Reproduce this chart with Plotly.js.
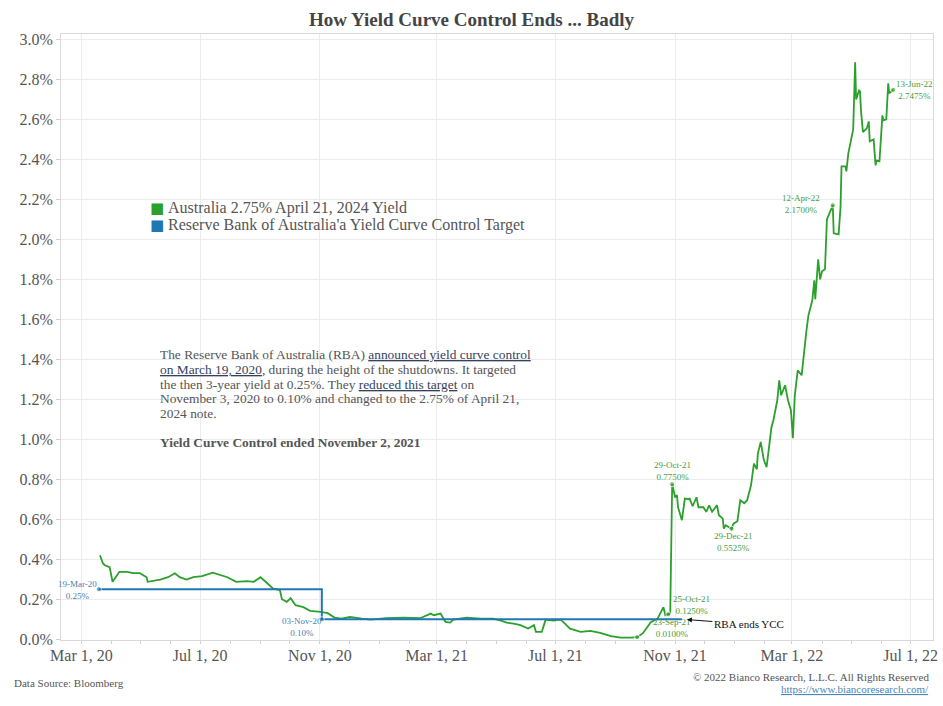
<!DOCTYPE html>
<html>
<head>
<meta charset="utf-8">
<script src="https://cdn.plot.ly/plotly-3.0.1.min.js"></script>
<style>html,body{margin:0;padding:0;background:#fff;}#chart{width:943px;height:706px;}</style>
</head>
<body>
<div id="chart"></div>
<script>
// ---- data ----
const yieldName = "Australia 2.75% April 21, 2024 Yield";
const targetName = "Reserve Bank of Australia'a Yield Curve Control Target";

const yieldDates = [
"2020-03-20","2020-03-23","2020-03-25","2020-03-30","2020-04-02","2020-04-06","2020-04-09","2020-04-17","2020-04-23","2020-04-30",
"2020-05-07","2020-05-08","2020-05-13","2020-05-21","2020-05-29","2020-06-05","2020-06-10","2020-06-17","2020-06-24","2020-07-03",
"2020-07-14","2020-07-22","2020-07-29","2020-08-07","2020-08-18","2020-08-25","2020-09-01","2020-09-08","2020-09-14","2020-09-21",
"2020-09-23","2020-09-28","2020-10-02","2020-10-07","2020-10-15","2020-10-22","2020-11-02","2020-11-09","2020-11-16","2020-11-23",
"2020-12-02","2020-12-14","2020-12-23","2021-01-08","2021-01-26","2021-02-12","2021-02-23","2021-02-26","2021-03-05","2021-03-10",
"2021-03-15","2021-03-18","2021-03-25","2021-04-01","2021-04-15","2021-04-28","2021-05-07","2021-05-12","2021-05-19","2021-05-26",
"2021-06-03","2021-06-09","2021-06-11","2021-06-17","2021-06-21","2021-06-29","2021-07-06","2021-07-09","2021-07-16","2021-07-27",
"2021-08-06","2021-08-16","2021-08-27","2021-09-06","2021-09-16","2021-09-23","2021-09-29","2021-10-07","2021-10-14","2021-10-20",
"2021-10-22","2021-10-25","2021-10-27","2021-10-29","2021-11-01","2021-11-03","2021-11-04","2021-11-08","2021-11-11","2021-11-15",
"2021-11-16","2021-11-19","2021-11-23","2021-11-25","2021-11-30","2021-12-03","2021-12-06","2021-12-09","2021-12-14","2021-12-16",
"2021-12-20","2021-12-21","2021-12-23","2021-12-29","2021-12-31","2022-01-04","2022-01-07","2022-01-11","2022-01-14","2022-01-18",
"2022-01-21","2022-01-24","2022-01-25","2022-01-28","2022-01-31","2022-02-03","2022-02-07","2022-02-08","2022-02-10","2022-02-14",
"2022-02-16","2022-02-18","2022-02-22","2022-02-25","2022-02-28","2022-03-02","2022-03-04","2022-03-07","2022-03-11","2022-03-14",
"2022-03-16","2022-03-18","2022-03-22","2022-03-24","2022-03-25","2022-03-28","2022-03-30","2022-04-01","2022-04-04","2022-04-06",
"2022-04-08","2022-04-12","2022-04-13","2022-04-18","2022-04-20","2022-04-21","2022-04-25","2022-04-26","2022-04-28","2022-05-02",
"2022-05-03","2022-05-05","2022-05-06","2022-05-09","2022-05-10","2022-05-11","2022-05-13","2022-05-17","2022-05-19","2022-05-20",
"2022-05-24","2022-05-26","2022-05-27","2022-05-30","2022-06-01","2022-06-02","2022-06-03","2022-06-06","2022-06-08","2022-06-09",
"2022-06-13"
];
const yieldValues = [
0.42,0.38,0.37,0.36,0.287,0.315,0.337,0.337,0.33,0.33,
0.31,0.287,0.29,0.298,0.31,0.33,0.31,0.298,0.31,0.315,
0.333,0.32,0.31,0.287,0.29,0.287,0.31,0.28,0.253,0.245,
0.20,0.187,0.205,0.17,0.16,0.142,0.137,0.13,0.108,0.103,
0.112,0.103,0.098,0.105,0.108,0.105,0.128,0.12,0.128,0.087,
0.083,0.098,0.103,0.108,0.103,0.103,0.092,0.083,0.078,0.07,
0.053,0.07,0.037,0.037,0.098,0.093,0.098,0.087,0.053,0.037,
0.042,0.032,0.015,0.008,0.008,0.01,0.03,0.085,0.103,0.16,
0.12,0.125,0.13,0.775,0.71,0.72,0.66,0.595,0.703,0.70,
0.703,0.665,0.71,0.66,0.66,0.637,0.67,0.637,0.67,0.62,
0.603,0.553,0.57,0.5525,0.578,0.59,0.695,0.68,0.695,0.77,
0.878,0.85,0.928,0.987,0.90,0.86,1.01,1.06,1.095,1.195,
1.295,1.22,1.27,1.195,1.145,1.005,1.22,1.345,1.32,1.47,
1.545,1.62,1.695,1.795,1.70,1.90,1.80,1.84,1.85,2.10,
2.125,2.17,2.03,2.025,2.16,2.365,2.365,2.34,2.43,2.53,
2.55,2.885,2.70,2.745,2.74,2.645,2.537,2.555,2.59,2.49,
2.50,2.37,2.395,2.39,2.555,2.62,2.595,2.60,2.78,2.73,
2.7475
];

const targetDates = ["2020-03-19","2020-11-03","2021-11-08"];
const targetValues = [0.25, 0.10, 0.10];

const yieldLabelDates = ["2021-09-23","2021-10-25","2021-10-29","2021-12-29","2022-04-12","2022-06-13"];
const targetLabelDates = ["2020-03-19","2020-11-03"];

const xTickVals = ["2020-03-01","2020-07-01","2020-11-01","2021-03-01","2021-07-01","2021-11-01","2022-03-01","2022-07-01"];
const xTickText = ["Mar 1, 20","Jul 1, 20","Nov 1, 20","Mar 1, 21","Jul 1, 21","Nov 1, 21","Mar 1, 22","Jul 1, 22"];
const yTickVals = [0,0.2,0.4,0.6,0.8,1.0,1.2,1.4,1.6,1.8,2.0,2.2,2.4,2.6,2.8,3.0];
const yTickText = ["0.0%","0.2%","0.4%","0.6%","0.8%","1.0%","1.2%","1.4%","1.6%","1.8%","2.0%","2.2%","2.4%","2.6%","2.8%","3.0%"];

const titleText = "How Yield Curve Control Ends ... Badly";
const descLines = [
  "The Reserve Bank of Australia (RBA) <span style='color:#34425e;text-decoration:underline'>announced yield curve control</span>",
  "<span style='color:#34425e;text-decoration:underline'>on March 19, 2020</span>, during the height of the shutdowns. It targeted",
  "the then 3-year yield at 0.25%. They <span style='color:#34425e;text-decoration:underline'>reduced this target</span> on",
  "November 3, 2020 to 0.10% and changed to the 2.75% of April 21,",
  "2024 note.",
  "",
  "<b>Yield Curve Control ended November 2, 2021</b>"
];
const sourceText = "Data Source: Bloomberg";
const copyrightText = "© 2022 Bianco Research, L.L.C. All Rights Reserved";
const urlText = "https://www.biancoresearch.com/";
const arrowText = "RBA ends YCC";

// ---- styles ----
const FONT = "Liberation Serif, Times New Roman, serif";
const GREEN = "#2ca02c";
const BLUE = "#1f77b4";
const GREEN_TXT = "#46a03c";
const BLUE_TXT = "#4a7fb3";
const GRID = "#ececec";

const months = ["Jan","Feb","Mar","Apr","May","Jun","Jul","Aug","Sep","Oct","Nov","Dec"];
function fmtDate(s){ const [y,m,d] = s.split("-"); return d + "-" + months[+m-1] + "-" + y.slice(2); }

const yieldSizes = yieldDates.map(d => yieldLabelDates.includes(d) ? 5 : 0);
const targetSizes = targetDates.map(d => targetLabelDates.includes(d) ? 5 : 0);

const traces = [
  {x: yieldDates, y: yieldValues, type: "scatter", mode: "lines+markers", name: yieldName,
   line: {color: GREEN, width: 1.8}, marker: {color: GREEN, size: yieldSizes}, hoverinfo: "x+y"},
  {x: targetDates, y: targetValues, type: "scatter", mode: "lines+markers", name: targetName,
   line: {color: BLUE, width: 2, shape: "hv"}, marker: {color: BLUE, size: targetSizes}, hoverinfo: "x+y"}
];

// label placement styles (pixels relative to the point)
const yieldLabelStyle = {
  "2021-09-23": {xanchor: "left", xshift: 14, yshift: 9},
  "2021-10-25": {xanchor: "left", xshift: 3, yshift: 9},
  "2021-10-29": {xanchor: "center", xshift: 0, yshift: 13},
  "2021-12-29": {xanchor: "center", xshift: 1, yshift: -13},
  "2022-04-12": {xanchor: "right", xshift: -11, yshift: 1},
  "2022-06-13": {xanchor: "left", xshift: 1, yshift: 0}
};
const targetLabelStyle = {
  "2020-03-19": {xanchor: "right", xshift: 0, yshift: -1},
  "2020-11-03": {xanchor: "right", xshift: 2, yshift: -8}
};

const annotations = [];
yieldLabelDates.forEach(d => {
  const i = yieldDates.indexOf(d);
  const st = yieldLabelStyle[d];
  annotations.push({x: d, y: yieldValues[i], xref: "x", yref: "y", showarrow: false,
    text: fmtDate(d) + "<br>" + yieldValues[i].toFixed(4) + "%", align: "center",
    xanchor: st.xanchor, yanchor: "middle", xshift: st.xshift, yshift: st.yshift,
    font: {family: FONT, size: 9, color: GREEN_TXT}});
});
targetLabelDates.forEach(d => {
  const i = targetDates.indexOf(d);
  const st = targetLabelStyle[d];
  annotations.push({x: d, y: targetValues[i], xref: "x", yref: "y", showarrow: false,
    text: fmtDate(d) + "<br>" + targetValues[i].toFixed(2) + "%", align: "center",
    xanchor: st.xanchor, yanchor: "middle", xshift: st.xshift, yshift: st.yshift,
    font: {family: FONT, size: 9, color: BLUE_TXT}});
});
// arrow to the end of the YCC target
const lastT = targetDates.length - 1;
annotations.push({x: targetDates[lastT], y: targetValues[lastT], xref: "x", yref: "y",
  text: arrowText, showarrow: true, ax: 67, ay: 5, arrowhead: 2, arrowsize: 1, arrowwidth: 1,
  arrowcolor: "#111", standoff: 5, font: {family: FONT, size: 11, color: "#111"}});

// legend (colour key)
const legendItems = [{name: yieldName, color: GREEN}, {name: targetName, color: BLUE}];
legendItems.forEach((it, i) => {
  annotations.push({x: 0.0998, y: 0.7129, xref: "paper", yref: "paper", xanchor: "left", yanchor: "middle",
    yshift: -i * 17, showarrow: false, text: "■", font: {family: "DejaVu Sans", size: 15, color: it.color}});
  annotations.push({x: 0.1204, y: 0.7129, xref: "paper", yref: "paper", xanchor: "left", yanchor: "middle",
    yshift: -i * 17, showarrow: false, text: it.name, font: {family: FONT, size: 16, color: "#555"}});
});

// description text block
descLines.forEach((t, i) => {
  if (!t) return;
  annotations.push({x: 0.1112, y: 0.486, xref: "paper", yref: "paper", xanchor: "left", yanchor: "top",
    yshift: -i * 14.6, showarrow: false, align: "left", text: t,
    font: {family: FONT, size: 13.4, color: "#555"}});
});
// footer
annotations.push({x: -0.0562, y: -0.071, xref: "paper", yref: "paper", xanchor: "left", yanchor: "middle",
  showarrow: false, text: sourceText, font: {family: FONT, size: 11, color: "#555"}});
annotations.push({x: 0.9977, y: -0.061, xref: "paper", yref: "paper", xanchor: "right", yanchor: "middle",
  showarrow: false, text: copyrightText, font: {family: FONT, size: 11, color: "#555"}});
annotations.push({x: 0.9977, y: -0.081, xref: "paper", yref: "paper", xanchor: "right", yanchor: "middle",
  showarrow: false, text: "<span style='text-decoration:underline'>" + urlText + "</span>",
  font: {family: FONT, size: 11, color: "#4a86b8"}});

const layout = {
  width: 943, height: 706,
  margin: {l: 61, r: 10, t: 34, b: 66},
  paper_bgcolor: "#fff", plot_bgcolor: "#fff",
  font: {family: FONT, color: "#555"},
  title: {text: "<b>" + titleText + "</b>", x: 0.5, xanchor: "center", y: 0.972, yanchor: "middle",
          font: {family: FONT, size: 19, color: "#444"}},
  showlegend: false,
  xaxis: {type: "date", range: ["2020-02-09", "2022-07-24"], tickmode: "array", tickvals: xTickVals, ticktext: xTickText,
          showgrid: true, gridcolor: GRID, showline: true, linecolor: "#d9d9d9", mirror: true,
          ticks: "outside", ticklen: 1, tickcolor: "#d9d9d9", zeroline: false,
          tickfont: {family: FONT, size: 16, color: "#555"},
          minor: {dtick: "M1", tick0: "2020-01-01", ticks: "outside", ticklen: 3, tickcolor: "#d0d0d0", showgrid: false}},
  yaxis: {range: [-0.004, 3.027], tickmode: "array", tickvals: yTickVals, ticktext: yTickText,
          showgrid: true, gridcolor: GRID, showline: true, linecolor: "#d9d9d9", mirror: true,
          ticks: "outside", ticklen: 4, tickcolor: "#d0d0d0", zeroline: false,
          tickfont: {family: FONT, size: 16, color: "#555"}},
  annotations: annotations
};

Plotly.newPlot("chart", traces, layout, {displayModeBar: false, staticPlot: true});
</script>
</body>
</html>
